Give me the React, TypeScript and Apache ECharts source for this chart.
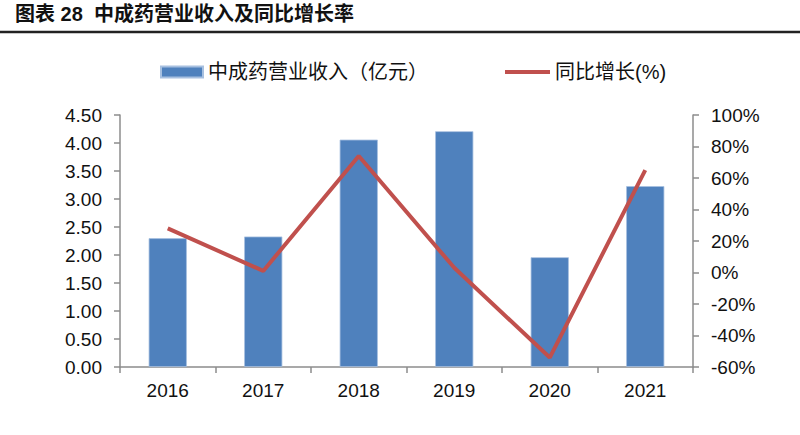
import React, { useEffect, useRef } from "react";
import * as echarts from "echarts";

const years = ["2016", "2017", "2018", "2019", "2020", "2021"];
const revenue = [2.3, 2.33, 4.06, 4.21, 1.96, 3.23];
const growth = [28, 1, 74, 3, -54, 65];
const leftTicks = { min: 0, max: 4.5, interval: 0.5 };
const rightTicks = { min: -60, max: 100, interval: 20 };

const titleText = "图表 28  中成药营业收入及同比增长率";
const barName = "中成药营业收入（亿元）";
const lineName = "同比增长(%)";

const numFont = "'Liberation Sans', Arial, sans-serif";
const cjkFont = "'Liberation Sans', 'Noto Sans CJK SC', sans-serif";

export default function App() {
  const ref = useRef<HTMLDivElement>(null);
  useEffect(() => {
    if (!ref.current) return;
    const chart = echarts.init(ref.current, null, { renderer: "svg" });
    const axisLineStyle = { color: "#8c8c8c", width: 1.5 };
    const legendText = { fontSize: 20, fontFamily: cjkFont, color: "#111" };
    chart.setOption({
      animation: false,
      backgroundColor: "#fff",
      graphic: [
        {
          type: "text",
          left: 15,
          top: 4,
          style: {
            text: titleText,
            fontSize: 20,
            fontWeight: "bold",
            fontFamily: cjkFont,
            fill: "#111",
          },
        },
        {
          type: "line",
          shape: { x1: 0, y1: 32, x2: 800, y2: 32 },
          style: { stroke: "#222", lineWidth: 2.5 },
        },
      ],
      legend: [
        {
          left: 155,
          top: 57,
          itemWidth: 42,
          itemHeight: 11,
          icon: "rect",
          textStyle: legendText,
          data: [{ name: barName }],
        },
        {
          left: 500,
          top: 57,
          itemWidth: 45,
          itemHeight: 4,
          icon: "rect",
          textStyle: legendText,
          data: [{ name: lineName }],
        },
      ],
      grid: { left: 120, right: 107, top: 115, bottom: 68 },
      xAxis: {
        type: "category",
        data: years,
        axisLine: { lineStyle: axisLineStyle },
        axisTick: { show: true, length: 6, lineStyle: axisLineStyle },
        axisLabel: { fontSize: 19, fontFamily: numFont, color: "#111", margin: 14 },
      },
      yAxis: [
        {
          type: "value",
          ...leftTicks,
          position: "left",
          axisLine: { show: true, lineStyle: axisLineStyle },
          axisTick: { show: true, length: 6, lineStyle: axisLineStyle },
          splitLine: { show: false },
          axisLabel: {
            fontSize: 19,
            fontFamily: numFont,
            color: "#111",
            margin: 18,
            formatter: (v: number) => v.toFixed(2),
          },
        },
        {
          type: "value",
          ...rightTicks,
          position: "right",
          axisLine: { show: true, lineStyle: axisLineStyle },
          axisTick: { show: true, length: 6, lineStyle: axisLineStyle },
          splitLine: { show: false },
          axisLabel: {
            fontSize: 19,
            fontFamily: numFont,
            color: "#111",
            margin: 18,
            formatter: (v: number) => `${v}%`,
          },
        },
      ],
      series: [
        {
          name: barName,
          type: "bar",
          data: revenue,
          barWidth: "40%",
          yAxisIndex: 0,
          itemStyle: { color: "#4F81BD", borderColor: "#A7C0E0", borderWidth: 0.8 },
        },
        {
          name: lineName,
          type: "line",
          data: growth,
          yAxisIndex: 1,
          symbol: "none",
          lineStyle: { color: "#C0504D", width: 4 },
          itemStyle: { color: "#C0504D" },
        },
      ],
    });
    return () => chart.dispose();
  }, []);
  return (
    <div
      ref={ref}
      style={{ position: "fixed", left: 0, top: 0, width: 800, height: 435 }}
    />
  );
}
